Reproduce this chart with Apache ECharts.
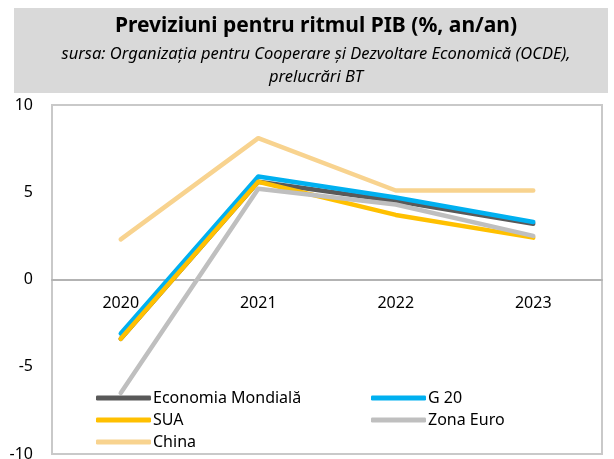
<!DOCTYPE html>
<html>
<head>
<meta charset="utf-8">
<script src="https://cdn.jsdelivr.net/npm/echarts@6/dist/echarts.min.js"></script>
<style>
  html, body { margin: 0; padding: 0; background: #fff; }
  #chart { width: 614px; height: 459px; }
</style>
</head>
<body>
<div id="chart"></div>
<script>
// date preluate din grafic (prognoze OCDE)
const years = ['2020', '2021', '2022', '2023'];
const economiaMondiala = [-3.4, 5.6, 4.5, 3.2];
const g20 = [-3.1, 5.9, 4.7, 3.3];
const sua = [-3.4, 5.6, 3.7, 2.4];
const zonaEuro = [-6.5, 5.2, 4.3, 2.5];
const china = [2.3, 8.1, 5.1, 5.1];
const yTicks = [-10, -5, 0, 5, 10];

const FONT = '"Noto Sans", "DejaVu Sans", sans-serif';

const chart = echarts.init(document.getElementById('chart'));

function line(name, data, color) {
  return {
    name: name,
    type: 'line',
    data: data,
    showSymbol: false,
    symbol: 'none',
    z: 3,
    lineStyle: { color: color, width: 4.5, cap: 'round', join: 'round' },
    itemStyle: { color: color },
    emphasis: { disabled: true }
  };
}

const legendBase = {
  orient: 'vertical',
  icon: 'roundRect',
  itemWidth: 55,
  itemHeight: 5,
  itemGap: 6,
  textStyle: { fontFamily: FONT, fontSize: 16, color: '#000', padding: [0, 0, 0, -3] }
};

const option = {
  backgroundColor: '#fff',
  animation: false,
  graphic: [{
    type: 'rect',
    shape: { x: 14, y: 8, width: 594, height: 85 },
    style: { fill: '#d9d9d9' },
    silent: true,
    z: 0
  }],
  title: {
    text: 'Previziuni pentru ritmul PIB (%, an/an)',
    subtext: 'sursa: Organizația pentru Cooperare și Dezvoltare Economică (OCDE),\nprelucrări BT',
    left: 311,
    textAlign: 'center',
    top: 11,
    itemGap: 6,
    z: 10,
    textStyle: { fontFamily: FONT, fontSize: 21, fontWeight: 'bold', color: '#000' },
    subtextStyle: { fontFamily: FONT, fontSize: 16.5, fontStyle: 'italic', color: '#000', lineHeight: 23 }
  },
  legend: [
    Object.assign({}, legendBase, { left: 91, top: 385, data: ['Economia Mondială', 'SUA', 'China'] }),
    Object.assign({}, legendBase, { left: 366, top: 385, data: ['G 20', 'Zona Euro'] })
  ],
  grid: {
    left: 52, right: 12, top: 105, bottom: 5,
    show: true,
    borderColor: '#c9c9c9',
    borderWidth: 2,
    outerBoundsMode: 'none'
  },
  xAxis: {
    type: 'category',
    data: years,
    position: 'bottom',
    offset: -174.5, // axa categoriilor trece prin 0
    boundaryGap: true,
    z: 2,
    axisLine: { show: true, onZero: false, lineStyle: { color: '#b3b3b3', width: 2 } },
    axisTick: { show: false },
    axisLabel: { show: true, fontFamily: FONT, fontSize: 16, color: '#000', margin: 16 },
    splitLine: { show: false }
  },
  yAxis: {
    type: 'value',
    min: yTicks[0],
    max: yTicks[yTicks.length - 1],
    interval: 5,
    axisLine: { show: false },
    axisTick: { show: false },
    splitLine: { show: false },
    axisLabel: { fontFamily: FONT, fontSize: 16, color: '#000', margin: 19 }
  },
  series: [
    line('Economia Mondială', economiaMondiala, '#595959'),
    line('G 20', g20, '#00b0f0'),
    line('SUA', sua, '#ffc000'),
    line('Zona Euro', zonaEuro, '#bfbfbf'),
    line('China', china, '#f8d38f')
  ]
};

chart.setOption(option);
</script>
</body>
</html>
